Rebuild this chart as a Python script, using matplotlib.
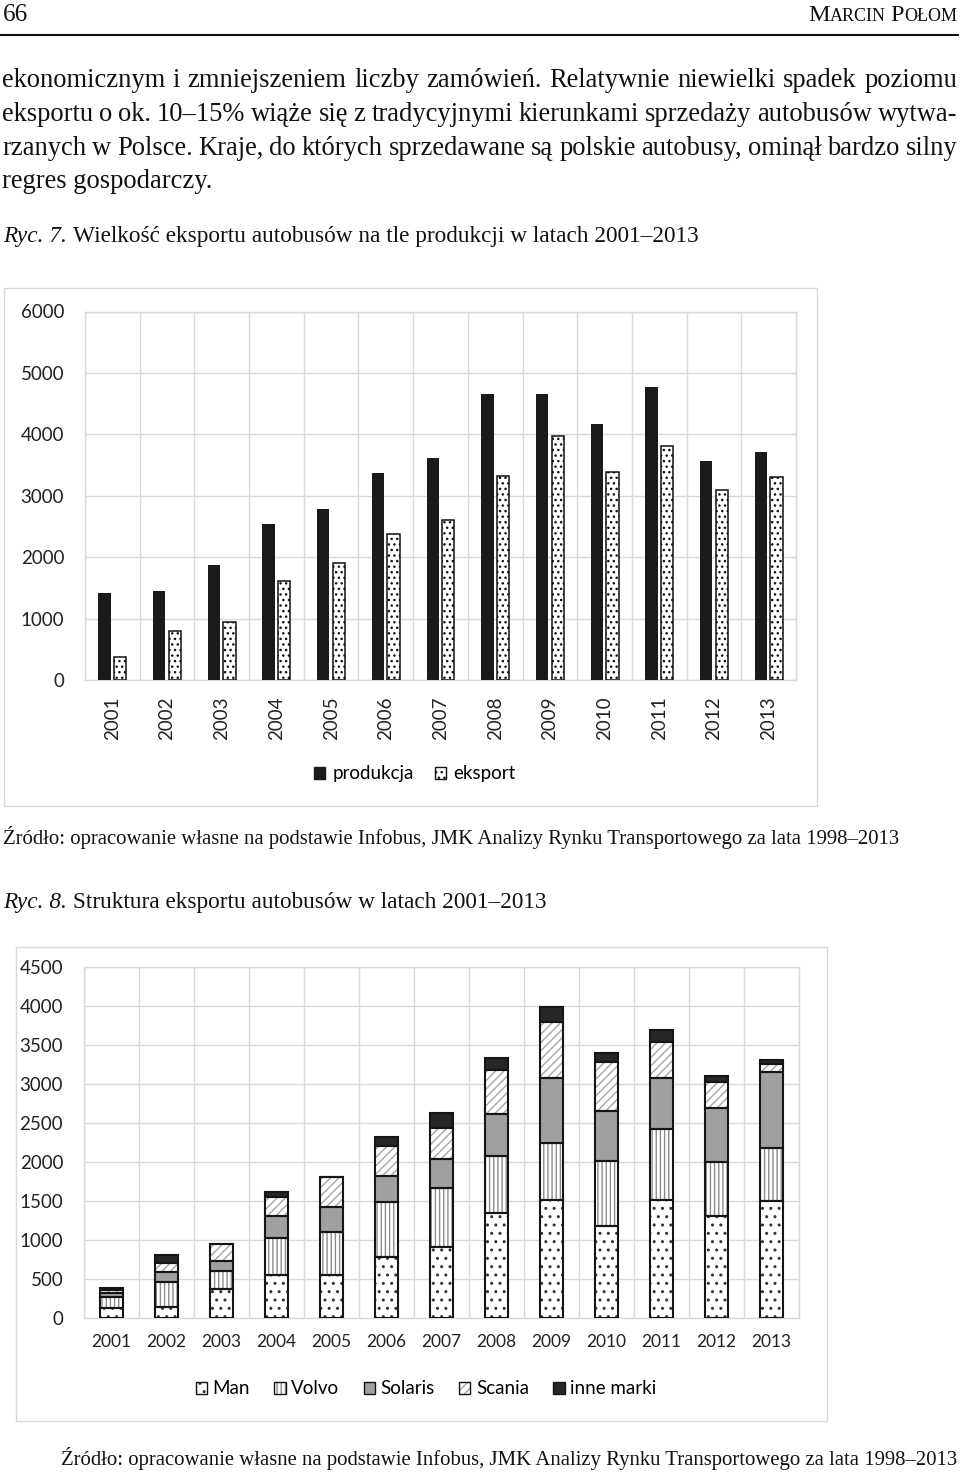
import matplotlib
matplotlib.use('Agg')
import matplotlib.pyplot as plt
from matplotlib.patches import Patch, Rectangle
from matplotlib.lines import Line2D
import numpy as np

# ---------------- data ----------------
years = ['2001', '2002', '2003', '2004', '2005', '2006', '2007',
         '2008', '2009', '2010', '2011', '2012', '2013']
produkcja = [1420, 1450, 1880, 2540, 2790, 3370, 3610, 4650, 4650, 4170, 4770, 3560, 3710]
eksport = [370, 800, 945, 1610, 1900, 2380, 2600, 3320, 3980, 3380, 3810, 3100, 3300]

man = [120, 133, 367, 546, 546, 780, 904, 1343, 1505, 1169, 1505, 1297, 1493]
volvo = [149, 327, 234, 473, 554, 704, 764, 729, 738, 844, 908, 694, 686]
solaris = [51, 120, 128, 278, 316, 328, 370, 542, 831, 635, 653, 691, 967]
scania = [34, 115, 214, 247, 384, 388, 392, 554, 721, 626, 464, 333, 99]
inne = [22, 107, 0, 72, 0, 115, 188, 154, 188, 115, 150, 85, 60]
brand_labels = ['Man', 'Volvo', 'Solaris', 'Scania', 'inne marki']

body_lines = [
    'ekonomicznym i zmniejszeniem liczby zamówień. Relatywnie niewielki spadek poziomu',
    'eksportu o ok. 10–15% wiąże się z tradycyjnymi kierunkami sprzedaży autobusów wytwa-',
    'rzanych w Polsce. Kraje, do których sprzedawane są polskie autobusy, ominął bardzo silny',
    'regres gospodarczy.',
]
cap7 = ('Ryc. 7.', 'Wielkość eksportu autobusów na tle produkcji w latach 2001–2013')
cap8 = ('Ryc. 8.', 'Struktura eksportu autobusów w latach 2001–2013')
source = 'Źródło: opracowanie własne na podstawie Infobus, JMK Analizy Rynku Transportowego za lata 1998–2013'

# ---------------- setup ----------------
W, H = 960, 1472
SERIF = 'Liberation Serif'
SANS = ['Lato', 'DejaVu Sans']
plt.rcParams['hatch.linewidth'] = 1.0

fig = plt.figure(figsize=(W / 100, H / 100), dpi=100)
fig.patch.set_facecolor('white')
renderer = fig.canvas.get_renderer()


def fx(x):
    return x / W


def fy(y):
    return 1 - y / H


def measure(s, size, style='normal', family=SERIF):
    t = fig.text(0, 0, s, fontsize=size, family=family, style=style)
    w = t.get_window_extent(renderer).width
    t.remove()
    return w


def space_w(size, style='normal'):
    return measure('R R', size, style) - measure('RR', size, style)


def put(x, y, s, size, style='normal', ha='left', family=SERIF):
    return fig.text(fx(x), fy(y), s, fontsize=size, family=family, style=style,
                    ha=ha, va='baseline', color='#111111')


def justify(line, y, x0, x1, size):
    words = line.split()
    ws = [measure(w, size) for w in words]
    gap = (x1 - x0 - sum(ws)) / (len(words) - 1)
    x = x0
    for w, wd in zip(words, ws):
        put(x, y, w, size)
        x += wd + gap


def caption(parts, x0, x1, y):
    it, rest = parts
    w10 = measure(it, 10, 'italic') + space_w(10) + measure(rest, 10)
    size = 10 * (x1 - x0) / w10
    put(x0, y, it, size, 'italic')
    put(x0 + measure(it, size, 'italic') + space_w(size), y, rest, size)


# ---------------- header ----------------
size66 = 10 * 25 / measure('66', 10)
put(3, 20.7, '66', size66)
# small caps author name
big, small = 17.5, 13.0
pieces = [('M', big), ('ARCIN', small), (' ', small), ('P', big), ('OŁOM', small)]
widths = []
for s, sz in pieces:
    if s == ' ':
        widths.append(space_w(sz))
    else:
        widths.append(measure(s, sz))
x = 957 - sum(widths)
for (s, sz), wd in zip(pieces, widths):
    if s != ' ':
        put(x, 20.7, s, sz)
    x += wd
fig.add_artist(Line2D([fx(0), fx(958)], [fy(34.5), fy(34.5)], transform=fig.transFigure,
                      color='#111111', lw=1.5))

# ---------------- body text ----------------
body_size = 10 * 210 / measure(body_lines[3], 10)
baselines = [87.3, 121.0, 154.7, 188.4]
for i, line in enumerate(body_lines):
    if i < 3:
        justify(line, baselines[i], 2, 957, body_size)
    else:
        put(2, baselines[i], line, body_size)

caption(cap7, 3, 700, 241.7)
src_size = 10 * 897 / measure(source, 10)
put(3, 844, source, src_size)
caption(cap8, 3, 546, 908.3)
put(957, 1465.5, source, src_size, ha='right')

# ---------------- chart boxes ----------------
fig.add_artist(Rectangle((fx(4), fy(806)), (817 - 4) / W, (806 - 287.5) / H,
                         transform=fig.transFigure, fill=False, edgecolor='#d9d9d9', lw=1))
fig.add_artist(Rectangle((fx(16), fy(1421)), (827 - 16) / W, (1421 - 947.3) / H,
                         transform=fig.transFigure, fill=False, edgecolor='#d9d9d9', lw=1))

GRID = '#d9d9d9'


def style_axes(ax, ymax, ystep):
    ax.set_xlim(-0.5, len(years) - 0.5)
    ax.set_ylim(0, ymax)
    ax.set_yticks(np.arange(0, ymax + 1, ystep))
    ax.set_xticks(np.arange(len(years)))
    ax.set_xticks(np.arange(-0.5, len(years), 1), minor=True)
    ax.grid(axis='y', which='major', color=GRID, lw=1, zorder=0)
    ax.grid(axis='x', which='minor', color=GRID, lw=1, zorder=0)
    ax.set_axisbelow(True)
    ax.tick_params(which='both', length=0)
    for sp in ax.spines.values():
        sp.set_color(GRID)
        sp.set_linewidth(1)
    for lab in ax.get_yticklabels():
        lab.set_fontfamily(SANS)
        lab.set_fontsize(13.5)
        lab.set_color('#222222')


# ---------------- chart 1 ----------------
ax1 = fig.add_axes([fx(85), fy(680), (796 - 85) / W, (680 - 311.5) / H])
xi = np.arange(len(years))
bw = 0.225
off = 0.143
ax1.bar(xi - off, produkcja, bw, color='#1a1a1a', zorder=3, label='produkcja')
ax1.bar(xi + off, eksport, bw, facecolor='white', edgecolor='#111111', hatch='...',
        linewidth=1.1, zorder=3, label='eksport')
style_axes(ax1, 6000, 1000)
ax1.set_xticklabels(years, rotation=90, fontfamily=SANS, fontsize=13.5, color='#222222')
ax1.tick_params(axis='y', pad=15)
ax1.tick_params(axis='x', pad=12)

h1 = [Patch(facecolor='#1a1a1a', edgecolor='#1a1a1a'),
      Patch(facecolor='white', edgecolor='#111111', hatch='...', lw=1.0)]
fig.legend(h1, ['produkcja', 'eksport'], loc='center', bbox_to_anchor=(fx(415), fy(774)),
           ncol=2, frameon=False, handlelength=0.6, handleheight=0.6, handletextpad=0.4,
           columnspacing=1.1, prop={'family': SANS, 'size': 13.5})

# ---------------- chart 2 ----------------
ax2 = fig.add_axes([fx(84), fy(1317.7), (799 - 84) / W, (1317.7 - 966.5) / H])
bw2 = 0.42
series = [man, volvo, solaris, scania, inne]
styles = [
    dict(facecolor='white', edgecolor='#333333', hatch='..'),
    dict(facecolor='white', edgecolor='#8c8c8c', hatch='||||'),
    dict(facecolor='#a0a0a0', edgecolor='#a0a0a0', hatch=None),
    dict(facecolor='white', edgecolor='#a6a6a6', hatch='////'),
    dict(facecolor='#262626', edgecolor='#262626', hatch=None),
]
bottom = np.zeros(len(years))
for vals, st in zip(series, styles):
    v = np.array(vals, dtype=float)
    ax2.bar(xi, v, bw2, bottom=bottom, linewidth=0, zorder=3, **st)
    ax2.bar(xi, v, bw2, bottom=bottom, fill=False, edgecolor='#151515', linewidth=1.5, zorder=4)
    bottom += v
style_axes(ax2, 4500, 500)
ax2.set_xticklabels(years, fontfamily=SANS, fontsize=12.5, color='#222222')
ax2.tick_params(axis='y', pad=15)
ax2.tick_params(axis='x', pad=12)

h2 = []
for st in styles:
    fillp = Patch(facecolor=st['facecolor'], edgecolor=st['edgecolor'], hatch=st['hatch'], lw=0)
    outl = Patch(fill=False, edgecolor='#151515', lw=1.0)
    h2.append((fillp, outl))
fig.legend(h2, brand_labels, loc='center', bbox_to_anchor=(fx(426), fy(1389)),
           ncol=5, frameon=False, handlelength=0.6, handleheight=0.6, handletextpad=0.3,
           columnspacing=1.3, prop={'family': SANS, 'size': 13.5})

fig.savefig('out.png', dpi=100, facecolor='white')
